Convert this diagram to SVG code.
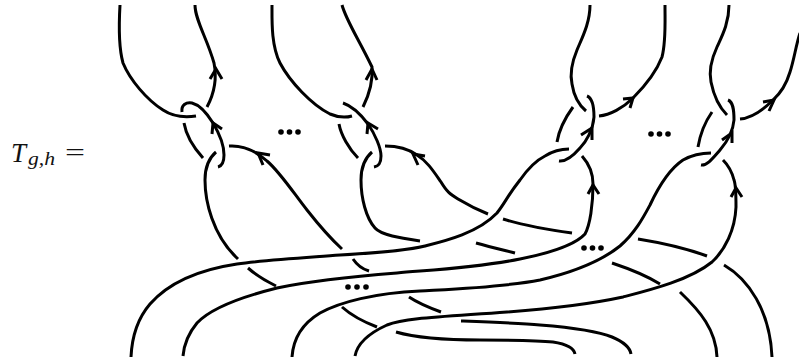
<svg xmlns="http://www.w3.org/2000/svg" width="799" height="359" viewBox="0 0 799 359">
<style>
path{fill:none;stroke:#000;stroke-width:3}
circle{fill:#000}
text{font-family:"Liberation Serif",serif;fill:#111}
.i{font-style:italic}
</style>
<rect width="799" height="359" fill="#fff"/>
<g id="label">
<text class="i" x="11" y="162" font-size="27">T</text>
<text class="i" x="28" y="165" font-size="18" textLength="27" lengthAdjust="spacingAndGlyphs">g,h</text>
<text x="65" y="161" font-size="26" textLength="20" lengthAdjust="spacingAndGlyphs">=</text>
</g>
<g id="strands">
<path d="M120 5C119 22 118 45 123 63C130 80 147 100 163 110C172 116 182 118 196 116"/>
<path d="M195 5C195 20 207 38 214 63C217 78 215 92 207 107"/>
<path d="M182 112C181 105 186 102 192 103C200 105 208 115 213 123C219 133 224 145 224 155C224 163 222 166 218 167"/>
<path d="M184 123C186 135 194 148 203 158"/>
<path d="M216 152C209 158 205 168 205 180C205 200 212 235 238 259"/>
<path d="M229 146C243 145 257 152 267 161C280 172 295 195 307 210C318 224 330 238 342 249"/>
<path d="M272 5C272 20 271 45 280 63C290 82 312 105 330 114C337 117 345 118 352 116"/>
<path d="M342 5C346 20 358 38 372 67C373 80 369 95 363 107"/>
<path d="M343 103C352 106 362 116 368 124C375 134 381 148 381 156C381 163 379 166 374 167"/>
<path d="M339 124C341 135 349 149 358 158"/>
<path d="M372 152C365 158 361 168 361 180C361 198 366 218 375 228C381 235 400 238 420 241"/>
<path d="M385 146C398 146 410 150 417 155C427 161 434 172 441 182C447 192 450 194 458 199C468 205 478 210 488 214"/>
<path d="M131 357C132 335 138 318 150 304C165 287 190 271 237 264C265 260 300 258 340 255C375 253 405 251 425 246C445 241 478 233 497 213C505 203 508 195 520 180C527 170 535 161 545 156C553 151 560 149 569 149"/>
<path d="M183 356C184 345 187 335 197 323C212 307 245 296 277 288C310 281 345 277 397 273C430 270 475 268 520 259C550 253 575 245 585 234C590 225 593 205 593 184C593 175 590 165 582 156"/>
<path d="M292 357C293 342 300 325 320 313C340 302 375 293 420 291C455 289 505 287 540 280C570 273 600 262 620 246C635 233 643 218 650 205C657 190 668 170 683 160C692 155 702 153 711 153"/>
<path d="M355 356C357 345 365 335 387 325C405 318 440 317 507 312C560 308 600 302 623 297C650 290 690 280 712 262C725 250 735 230 736 207C736 200 736 185 734 180C732 172 728 165 723 160"/>
<path d="M590 5C590 23 582 38 577 50C572 62 570 75 572 84C574 97 580 106 586 111"/>
<path d="M587 96C592 98 594 105 594 117C593 130 586 142 580 148C573 156 566 162 559 161"/>
<path d="M599 116C610 115 623 108 633 98C645 86 657 70 662 57C666 42 665 25 665 5"/>
<path d="M573 107C565 118 559 130 557 142"/>
<path d="M729 5C729 23 722 36 717 47C711 60 709 72 711 82C714 97 721 109 727 115"/>
<path d="M728 100C733 102 734 109 734 120C733 132 726 143 720 150C713 158 707 166 701 165"/>
<path d="M740 119C752 118 765 108 773 100C782 92 787 82 790 72C794 60 796 45 800 33"/>
<path d="M712 112C705 122 700 135 698 147"/>
<path d="M724 265C748 279 770 310 772 357"/>
<path d="M680 292C700 311 716 330 717 357"/>
<path d="M638 239C663 243 688 249 707 256"/>
<path d="M612 263C630 269 647 276 660 284"/>
<path d="M503 219C525 226 550 230 572 233"/>
<path d="M476 243C490 247 503 250 515 253"/>
<path d="M396 332C420 339 450 340 480 340C510 340 535 340 553 342C566 344 574 348 575 354"/>
<path d="M461 321C490 322 520 323 540 325C565 327 595 330 612 337C624 342 630 348 631 354"/>
<path d="M248 268C256 275 266 281 276 286"/>
<path d="M353 259C357 265 362 269 369 271"/>
<path d="M342 307C352 316 364 322 377 327"/>
<path d="M409 297C418 303 430 308 441 312"/>
</g>
<g id="arrowheads">
<path d="M210 79L216 69L222 79"/>
<path d="M366 80L372 69L377 80"/>
<path d="M212 134L213 123L222 129"/>
<path d="M367 134L368 123L378 129"/>
<path d="M270 155L258 153L263 165"/>
<path d="M425 156L413 154L418 165"/>
<path d="M581 135L592 128L592 140"/>
<path d="M722 140L732 133L732 143"/>
<path d="M623 99L633 98L630 108"/>
<path d="M763 102L774 100L769 111"/>
<path d="M588 194L593 185L599 194"/>
<path d="M731 197L736 188L742 197"/>
</g>
<g id="dots">
<circle cx="281" cy="132" r="2.8"/><circle cx="289.500" cy="132" r="2.8"/><circle cx="298" cy="132" r="2.8"/>
<circle cx="651" cy="134" r="2.8"/><circle cx="659.500" cy="134" r="2.8"/><circle cx="668" cy="134" r="2.8"/>
<circle cx="348" cy="287" r="2.8"/><circle cx="357" cy="287" r="2.8"/><circle cx="366" cy="287" r="2.8"/>
<circle cx="584" cy="248" r="2.8"/><circle cx="592.500" cy="248" r="2.8"/><circle cx="601" cy="248" r="2.8"/>
</g>
</svg>
